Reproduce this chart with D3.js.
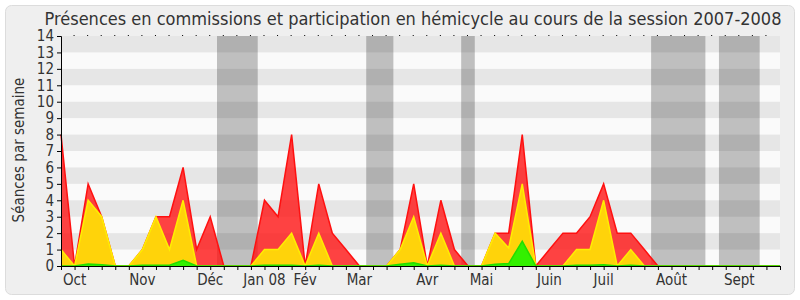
<!DOCTYPE html>
<html>
<head>
<meta charset="utf-8">
<script src="https://cdn.jsdelivr.net/npm/d3@7"></script>
<style>
  body { margin: 0; background: #fff; }
  text { font-family: "DejaVu Sans Condensed", "DejaVu Sans", sans-serif; font-stretch: condensed; fill: #333; }
</style>
</head>
<body>
<div id="chart"></div>
<script>
// weekly values, week 0 = end of Sept 2007, week 53 = end of Sept 2008
const total    = [8,0,5,3,0,0,1,3,3,6,1,3,0,0,0,4,3,8,0,5,2,1,0,0,0,1,5,0,4,1,0,0,2,2,8,0,1,2,2,3,5,2,2,1,0,0,0,0,0,0,0,0,0,0];
const commiss  = [1,0,4,3,0,0,1,3,1,4,0,0,0,0,0,1,1,2,0,2,0,0,0,0,0,1,3,0,2,0,0,0,2,1.1,5,0,0,0,1,1,4,0,1,0,0,0,0,0,0,0,0,0,0,0];
const hemicyc  = [0,0,0.12,0.07,0,0,0.05,0.05,0.05,0.35,0,0,0,0,0,0.05,0.05,0.05,0,0.05,0,0,0,0,0,0.1,0.2,0,0.05,0,0,0,0.1,0.15,1.5,0,0,0,0.05,0.05,0.08,0,0.05,0,0,0,0,0,0,0,0,0,0,0];
const vacations = [[11.5,14.5],[22.5,24.5],[29.5,30.5],[43.5,47.5],[48.5,51.5]];
const monthLabels = ["Oct","Nov","Déc","Jan 08","Fév","Mar","Avr","Mai","Juin","Juil","Août","Sept"];
const monthWeeks  = [1,6,11,15,18,22,27,31,36,40,45,50];
const yTicks = d3.range(0,15);

const width = 800, height = 300;
const margin = {top: 36, right: 20, bottom: 34, left: 61};

const svg = d3.select("#chart").append("svg")
    .attr("width", width)
    .attr("height", height);

// frame
svg.append("rect")
    .attr("x",5.5).attr("y",5.5)
    .attr("width",789).attr("height",289)
    .attr("rx",6)
    .attr("fill","#efefef")
    .attr("stroke","#dcdcdc");

const x = d3.scaleLinear().domain([0,53]).range([margin.left, width-margin.right]);
const y = d3.scaleLinear().domain([0,14]).range([height-margin.bottom, margin.top]);

// plot background
svg.append("rect")
    .attr("x",x(0)).attr("y",y(14))
    .attr("width",x(53)-x(0)).attr("height",y(0)-y(14))
    .attr("fill","#fafafa");

svg.selectAll("rect.vac")
    .data(vacations)
    .enter().append("rect")
    .attr("class","vac")
    .attr("x",d=>x(d[0]))
    .attr("y",y(14))
    .attr("width",d=>x(d[1])-x(d[0]))
    .attr("height",y(0)-y(14))
    .attr("fill","#bfbfbf");

// darker stripes every other unit
svg.selectAll("rect.stripe")
    .data(yTicks.filter(v=>v%2==1))
    .enter().append("rect")
    .attr("class","stripe")
    .attr("x",x(0))
    .attr("y",d=>y(d+1))
    .attr("width",x(53)-x(0))
    .attr("height",d=>y(d)-y(d+1))
    .attr("fill","rgba(0,0,0,0.08)");

// areas
function drawSeries(values, fill, stroke) {
    const pts = values.map((v,i)=>[i,v]);
    svg.append("path")
        .datum(pts)
        .attr("d", d3.area().x(d=>x(d[0])).y0(y(0)).y1(d=>y(d[1])))
        .attr("fill", fill);
    svg.append("path")
        .datum(pts)
        .attr("d", d3.line().x(d=>x(d[0])).y(d=>y(d[1])))
        .attr("fill","none")
        .attr("stroke", stroke)
        .attr("stroke-width",1.5);
}
drawSeries(total, "rgba(255,20,20,0.8)", "#ff1010");
drawSeries(commiss, "#ffd30a", "#ffee00");
drawSeries(hemicyc, "#33f000", "#22dd00");

// axes
const yAxis = d3.axisLeft(y).tickValues(yTicks).tickSize(4).tickFormat(d3.format("d"));
const gy = svg.append("g").attr("transform",`translate(${x(0)},0)`).call(yAxis);
gy.select(".domain").attr("stroke","#000");
gy.selectAll("text").style("font-family",null).style("font-size","15px").attr("fill","#333");
gy.attr("font-family",null);

const xAxis = d3.axisBottom(x).tickValues(d3.range(0,54)).tickSize(4).tickFormat("");
const gx = svg.append("g").attr("transform",`translate(0,${y(0)})`).call(xAxis);
gx.select(".domain").attr("stroke","#000");

svg.selectAll("text.month")
    .data(monthLabels)
    .enter().append("text")
    .attr("class","month")
    .attr("x",(d,i)=>x(monthWeeks[i]))
    .attr("y",y(0)+19)
    .attr("text-anchor","middle")
    .style("font-size","15px")
    .text(d=>d);

// dots along the top edge
svg.selectAll("rect.topdot")
    .data(d3.range(1,53))
    .enter().append("rect")
    .attr("class","topdot")
    .attr("x",d=>x(d)-1)
    .attr("y",y(14)-1)
    .attr("width",1).attr("height",1)
    .attr("fill","#000");

// title and y label
svg.append("text")
    .attr("x",413)
    .attr("y",25)
    .attr("text-anchor","middle")
    .style("font-size","18px")
    .text("Présences en commissions et participation en hémicycle au cours de la session 2007-2008");

svg.append("text")
    .attr("transform","translate(24,150) rotate(-90)")
    .attr("text-anchor","middle")
    .style("font-size","15px")
    .text("Séances par semaine");
</script>
</body>
</html>
